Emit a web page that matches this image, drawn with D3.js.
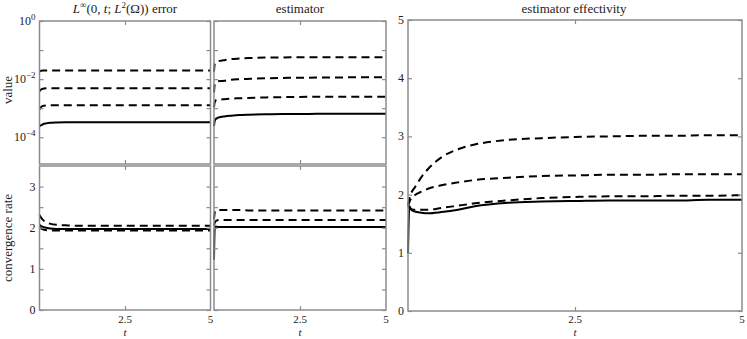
<!DOCTYPE html>
<html>
<head>
<meta charset="utf-8">
<script src="https://cdn.jsdelivr.net/npm/d3@7"></script>
<style>
  body { margin: 0; background: #fff; }
  svg text { font-family: "Liberation Serif", "DejaVu Serif", serif; fill: #222; }
  .tick line { stroke: #8c8c8c; stroke-width: 1.2; }
</style>
</head>
<body>
<script>
// time grid shared by every series
var T = [0, 0.02, 0.05, 0.1, 0.2, 0.3, 0.5, 0.75, 1, 1.5, 2, 2.5, 3, 3.5, 4, 4.5, 5];

// L^inf(0,t;L^2) error, 4 refinement levels
var errLevel1 = [1.8e-2, 1.9e-2, 1.95e-2, 2.0e-2, 2.0e-2, 2.0e-2, 2.0e-2, 2.0e-2, 2.0e-2, 2.0e-2, 2.0e-2, 2.0e-2, 2.0e-2, 2.0e-2, 2.0e-2, 2.0e-2, 2.0e-2];
var errLevel2 = [3.8e-3, 4.1e-3, 4.4e-3, 4.7e-3, 4.85e-3, 4.9e-3, 4.9e-3, 4.9e-3, 4.9e-3, 4.9e-3, 4.9e-3, 4.9e-3, 4.9e-3, 4.9e-3, 4.9e-3, 4.9e-3, 4.9e-3];
var errLevel3 = [9e-4, 1.0e-3, 1.1e-3, 1.2e-3, 1.25e-3, 1.27e-3, 1.27e-3, 1.27e-3, 1.27e-3, 1.27e-3, 1.27e-3, 1.27e-3, 1.27e-3, 1.27e-3, 1.27e-3, 1.27e-3, 1.27e-3];
var errLevel4 = [2.4e-4, 2.5e-4, 2.6e-4, 2.8e-4, 3.0e-4, 3.15e-4, 3.25e-4, 3.3e-4, 3.3e-4, 3.3e-4, 3.3e-4, 3.3e-4, 3.3e-4, 3.3e-4, 3.3e-4, 3.3e-4, 3.3e-4];

// estimator
var estLevel1 = [1.8e-2, 3.3e-2, 3.8e-2, 4.1e-2, 4.3e-2, 4.5e-2, 4.9e-2, 5.1e-2, 5.3e-2, 5.5e-2, 5.6e-2, 5.65e-2, 5.7e-2, 5.7e-2, 5.7e-2, 5.7e-2, 5.7e-2];
var estLevel2 = [3.5e-3, 6.5e-3, 7.8e-3, 8.3e-3, 8.6e-3, 8.8e-3, 9.5e-3, 9.9e-3, 1.02e-2, 1.07e-2, 1.1e-2, 1.12e-2, 1.13e-2, 1.14e-2, 1.15e-2, 1.15e-2, 1.15e-2];
var estLevel3 = [1.07e-3, 1.6e-3, 1.85e-3, 1.95e-3, 2.0e-3, 2.05e-3, 2.15e-3, 2.2e-3, 2.25e-3, 2.35e-3, 2.4e-3, 2.45e-3, 2.47e-3, 2.5e-3, 2.5e-3, 2.5e-3, 2.5e-3];
var estLevel4 = [2.4e-4, 3.6e-4, 4.2e-4, 4.6e-4, 5.0e-4, 5.2e-4, 5.5e-4, 5.8e-4, 5.95e-4, 6.15e-4, 6.3e-4, 6.35e-4, 6.4e-4, 6.45e-4, 6.5e-4, 6.5e-4, 6.5e-4];

// convergence rates of the error
var errRateA = [2.31, 2.28, 2.24, 2.19, 2.13, 2.10, 2.07, 2.06, 2.05, 2.05, 2.05, 2.05, 2.05, 2.05, 2.05, 2.05, 2.05];
var errRateB = [2.0, 1.99, 1.98, 1.96, 1.94, 1.93, 1.93, 1.93, 1.93, 1.93, 1.93, 1.93, 1.93, 1.93, 1.93, 1.93, 1.93];
var errRateC = [2.07, 2.06, 2.04, 2.02, 2.0, 1.98, 1.97, 1.97, 1.97, 1.97, 1.97, 1.97, 1.97, 1.97, 1.97, 1.97, 1.97];

// convergence rates of the estimator
var estRateA = [2.2, 2.36, 2.42, 2.43, 2.43, 2.43, 2.43, 2.43, 2.42, 2.42, 2.42, 2.42, 2.42, 2.42, 2.42, 2.42, 2.42];
var estRateB = [2.05, 2.12, 2.16, 2.18, 2.19, 2.19, 2.19, 2.19, 2.19, 2.19, 2.19, 2.19, 2.19, 2.19, 2.19, 2.19, 2.19];
var estRateC = [1.22, 1.98, 2.03, 2.02, 2.02, 2.02, 2.02, 2.02, 2.02, 2.02, 2.02, 2.02, 2.02, 2.02, 2.02, 2.02, 2.02];

// effectivity index
var effLevel1 = [1.82, 1.93, 2.03, 2.12, 2.3, 2.44, 2.64, 2.78, 2.86, 2.94, 2.97, 2.99, 3.0, 3.01, 3.01, 3.02, 3.02];
var effLevel2 = [1.80, 1.87, 1.94, 1.99, 2.05, 2.1, 2.16, 2.21, 2.25, 2.29, 2.32, 2.33, 2.34, 2.34, 2.35, 2.35, 2.35];
var effLevel3 = [1.79, 1.77, 1.75, 1.74, 1.74, 1.74, 1.77, 1.81, 1.85, 1.90, 1.94, 1.96, 1.97, 1.97, 1.98, 1.98, 1.99];
var effLevel4 = [0.99, 1.80, 1.74, 1.71, 1.69, 1.68, 1.70, 1.74, 1.80, 1.86, 1.88, 1.89, 1.90, 1.90, 1.90, 1.91, 1.91];

var xTicks = [0, 2.5, 5];
var xTickLabels = ["", "2.5", "5"];

var width = 747, height = 339;

var svg = d3.select("body").append("svg")
    .attr("width", width)
    .attr("height", height);

function sup(txt, base, exp) {
    txt.append("tspan").text(base);
    txt.append("tspan").attr("dy", -5).attr("font-size", "9px").text(exp);
}

function panel(opt) {
    var g = svg.append("g");
    var x = d3.scaleLinear().domain([0, 5]).range([opt.x0, opt.x1]);
    var y = opt.log
        ? d3.scaleLog().domain(opt.yDomain).range([opt.y1, opt.y0])
        : d3.scaleLinear().domain(opt.yDomain).range([opt.y1, opt.y0]);

    var line = d3.line()
        .x(function(d) { return x(d[0]); })
        .y(function(d) { return y(d[1]); })
        .curve(d3.curveMonotoneX);

    g.selectAll(".series")
        .data(opt.series)
        .enter().append("path")
        .attr("fill", "none")
        .attr("stroke", "#000")
        .attr("stroke-width", 2)
        .attr("stroke-dasharray", function(s) { return s.dashed ? "8,5" : null; })
        .attr("d", function(s) { return line(T.map(function(t, i) { return [t, s.values[i]]; })); });

    // frame
    g.append("rect")
        .attr("x", opt.x0).attr("y", opt.y0)
        .attr("width", opt.x1 - opt.x0).attr("height", opt.y1 - opt.y0)
        .attr("fill", "none").attr("stroke", "#8c8c8c").attr("stroke-width", 1.5);

    var left = g.append("g").attr("transform", "translate(" + opt.x0 + ",0)")
        .call(d3.axisLeft(y).tickValues(opt.yTicks).tickSize(-4).tickFormat(""));
    left.select(".domain").remove();
    var right = g.append("g").attr("transform", "translate(" + opt.x1 + ",0)")
        .call(d3.axisRight(y).tickValues(opt.yTicks).tickSize(-4).tickFormat(""));
    right.select(".domain").remove();

    var top = g.append("g").attr("transform", "translate(0," + opt.y0 + ")")
        .call(d3.axisTop(x).tickValues([2.5]).tickSize(-4).tickFormat(""));
    top.select(".domain").remove();
    var bottom = g.append("g").attr("transform", "translate(0," + opt.y1 + ")")
        .call(d3.axisBottom(x).tickValues([2.5]).tickSize(-4).tickFormat(""));
    bottom.select(".domain").remove();

    if (opt.yLabels) {
        opt.yLabels.forEach(function(v) {
            var t = g.append("text")
                .attr("x", opt.x0 - 4)
                .attr("y", y(v) + 4)
                .attr("text-anchor", "end")
                .attr("font-size", "12px");
            if (opt.log) {
                sup(t, "10", v === 1 ? "0" : "\u2212" + Math.round(-Math.log10(v)));
            } else {
                t.text(v);
            }
        });
    }

    if (opt.xLabels) {
        xTicks.forEach(function(v, i) {
            if (!xTickLabels[i]) return;
            g.append("text")
                .attr("x", x(v))
                .attr("y", 323)
                .attr("text-anchor", "middle")
                .attr("font-size", "11px")
                .text(xTickLabels[i]);
        });
        g.append("text")
            .attr("x", x(2.5))
            .attr("y", 336)
            .attr("text-anchor", "middle")
            .attr("font-size", "11px")
            .attr("font-style", "italic")
            .text("t");
    }
    return g;
}

var logDomain = [Math.pow(10, -4.92), 1];
var decades = [1, 1e-1, 1e-2, 1e-3, 1e-4];
var rateTicks = [0, 0.5, 1, 1.5, 2, 2.5, 3];

panel({ x0: 39.5, x1: 210.5, y0: 21, y1: 164, log: true, yDomain: logDomain, yTicks: decades,
    yLabels: [1, 1e-2, 1e-4],
    series: [
        { values: errLevel1, dashed: true },
        { values: errLevel2, dashed: true },
        { values: errLevel3, dashed: true },
        { values: errLevel4, dashed: false }
    ] });

panel({ x0: 214, x1: 386, y0: 21, y1: 164, log: true, yDomain: logDomain, yTicks: decades,
    series: [
        { values: estLevel1, dashed: true },
        { values: estLevel2, dashed: true },
        { values: estLevel3, dashed: true },
        { values: estLevel4, dashed: false }
    ] });

panel({ x0: 39.5, x1: 210.5, y0: 166, y1: 310, yDomain: [0, 3.5], yTicks: rateTicks,
    yLabels: [0, 1, 2, 3], xLabels: true,
    series: [
        { values: errRateA, dashed: true },
        { values: errRateB, dashed: true },
        { values: errRateC, dashed: false }
    ] });

panel({ x0: 214, x1: 386, y0: 166, y1: 310, yDomain: [0, 3.5], yTicks: rateTicks,
    xLabels: true,
    series: [
        { values: estRateA, dashed: true },
        { values: estRateB, dashed: true },
        { values: estRateC, dashed: false }
    ] });

panel({ x0: 408, x1: 742, y0: 20, y1: 311, yDomain: [0, 5], yTicks: [0, 1, 2, 3, 4, 5],
    yLabels: [0, 1, 2, 3, 4, 5], xLabels: true,
    series: [
        { values: effLevel1, dashed: true },
        { values: effLevel2, dashed: true },
        { values: effLevel3, dashed: true },
        { values: effLevel4, dashed: false }
    ] });

// titles
var title1 = svg.append("text").attr("x", 125).attr("y", 13)
    .attr("text-anchor", "middle").attr("font-size", "13px");
title1.append("tspan").attr("font-style", "italic").text("L");
title1.append("tspan").attr("dy", -5).attr("font-size", "9px").text("\u221e");
title1.append("tspan").attr("dy", 5).text("(0, ");
title1.append("tspan").attr("font-style", "italic").text("t");
title1.append("tspan").text("; ");
title1.append("tspan").attr("font-style", "italic").text("L");
title1.append("tspan").attr("dy", -5).attr("font-size", "9px").text("2");
title1.append("tspan").attr("dy", 5).text("(\u03a9)) error");

svg.append("text").attr("x", 300).attr("y", 13)
    .attr("text-anchor", "middle").attr("font-size", "13px").text("estimator");
svg.append("text").attr("x", 574).attr("y", 13)
    .attr("text-anchor", "middle").attr("font-size", "13px").text("estimator effectivity");

svg.append("text").attr("transform", "translate(12,90) rotate(-90)")
    .attr("text-anchor", "middle").attr("font-size", "13px").text("value");
svg.append("text").attr("transform", "translate(12,238) rotate(-90)")
    .attr("text-anchor", "middle").attr("font-size", "13px").text("convergence rate");
</script>
</body>
</html>
